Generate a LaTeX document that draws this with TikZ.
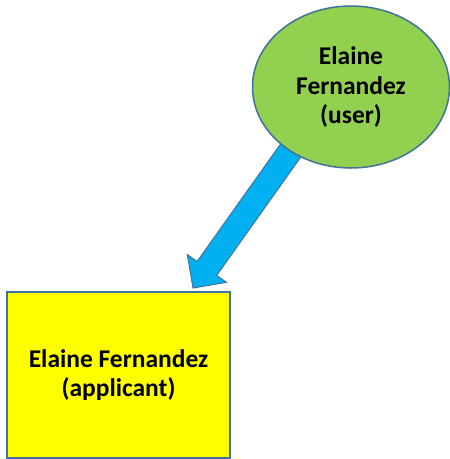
\documentclass[tikz,border=0pt]{standalone}
\usepackage{fontspec}
\setmainfont{Carlito}
\usetikzlibrary{calc,shapes.geometric}
\definecolor{edgeblue}{HTML}{41719C}
\definecolor{usergreen}{HTML}{92D050}
\definecolor{arrowblue}{HTML}{00B0F0}
\definecolor{boxyellow}{HTML}{FFFF00}
\tikzset{
  lbl/.style={font=\fontsize{25.5}{29.5}\selectfont\bfseries, align=center, text=black},
  userbox/.style={ellipse, draw=edgeblue, line width=1.5pt, fill=usergreen, minimum width=197pt, minimum height=162pt, inner sep=0pt, lbl},
  appbox/.style={rectangle, draw=edgeblue, line width=1.5pt, fill=boxyellow, minimum width=223pt, minimum height=166pt, inner sep=0pt, lbl},
  blockarrow/.style={fill=arrowblue, draw=edgeblue, line width=1pt, line join=miter}
}
\begin{document}
\begin{tikzpicture}[x=1pt,y=-1pt]
\useasboundingbox (0,0) rectangle (450,459);
\coordinate (s) at (296,143);
\coordinate (t) at (193,288);
\coordinate (b) at ($(t)!24pt!(s)$);
\draw[blockarrow] ($(s)!12pt!90:(t)$) -- ($(b)!12pt!90:(t)$) -- ($(b)!24pt!90:(t)$) -- (t)
  -- ($(b)!24pt!-90:(t)$) -- ($(b)!12pt!-90:(t)$) -- ($(s)!12pt!-90:(t)$) -- cycle;
\node[userbox] (user) at (351,87) {Elaine\\Fernandez\\(user)};
\node[appbox] (app) at (118.5,375) {Elaine Fernandez\\(applicant)};
\end{tikzpicture}
\end{document}
